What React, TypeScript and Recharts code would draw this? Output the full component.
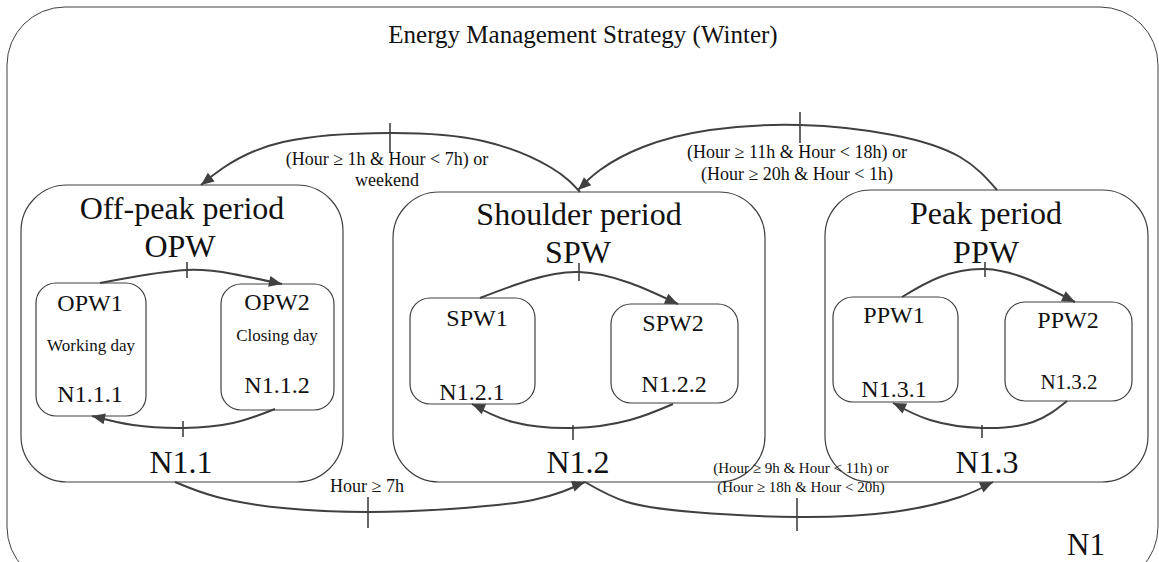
import React from "react";
import {
  ComposedChart,
  XAxis,
  YAxis,
  Line,
  Scatter,
  ReferenceArea,
  ReferenceLine,
} from "recharts";

// diagram units == pixels of the 1159x562 canvas (y grows downwards)
const WIDTH = 1159;
const HEIGHT = 562;

type Box = { id: string; x1: number; x2: number; y1: number; y2: number };
type Pt = { x: number; y: number };
type Label = { text: string; x: number; y: number; role: string };

const outerFrame: Box[] = [{ id: "N1", x1: 7, x2: 1158, y1: 7, y2: 585 }];

const periodBoxes: Box[] = [
  { id: "OPW", x1: 21, x2: 343, y1: 185, y2: 482 },
  { id: "SPW", x1: 393, x2: 765, y1: 192, y2: 482 },
  { id: "PPW", x1: 825, x2: 1148, y1: 190, y2: 482 },
];

const stateBoxes: Box[] = [
  { id: "OPW1", x1: 36, x2: 146, y1: 283, y2: 416 },
  { id: "OPW2", x1: 221, x2: 334, y1: 284, y2: 410 },
  { id: "SPW1", x1: 410, x2: 535, y1: 298, y2: 404 },
  { id: "SPW2", x1: 611, x2: 738, y1: 304, y2: 403 },
  { id: "PPW1", x1: 833, x2: 958, y1: 297, y2: 402 },
  { id: "PPW2", x1: 1005, x2: 1132, y1: 302, y2: 401 },
];

const titleLabels: Label[] = [
  { text: "Energy Management Strategy (Winter)", x: 583, y: 43, role: "title" },
];

const periodLabels: Label[] = [
  { text: "Off-peak period", x: 182, y: 219, role: "period" },
  { text: "OPW", x: 180, y: 257, role: "period" },
  { text: "Shoulder period", x: 579, y: 225, role: "period" },
  { text: "SPW", x: 578, y: 263, role: "period" },
  { text: "Peak period", x: 986, y: 224, role: "period" },
  { text: "PPW", x: 986, y: 263, role: "period" },
  { text: "N1.1", x: 181, y: 473, role: "period" },
  { text: "N1.2", x: 578, y: 473, role: "period" },
  { text: "N1.3", x: 987, y: 473, role: "period" },
  { text: "N1", x: 1086, y: 555, role: "root" },
];

const stateLabels: Label[] = [
  { text: "OPW1", x: 90, y: 311, role: "state" },
  { text: "Working day", x: 91, y: 351, role: "day" },
  { text: "N1.1.1", x: 90, y: 402, role: "state" },
  { text: "OPW2", x: 277, y: 310, role: "state" },
  { text: "Closing day", x: 277, y: 341, role: "day" },
  { text: "N1.1.2", x: 277, y: 393, role: "state" },
  { text: "SPW1", x: 477, y: 326, role: "state" },
  { text: "N1.2.1", x: 472, y: 400, role: "state" },
  { text: "SPW2", x: 673, y: 331, role: "state" },
  { text: "N1.2.2", x: 674, y: 392, role: "state" },
  { text: "PPW1", x: 894, y: 323, role: "state" },
  { text: "N1.3.1", x: 894, y: 397, role: "state" },
  { text: "PPW2", x: 1068, y: 328, role: "state" },
  { text: "N1.3.2", x: 1069, y: 389, role: "stateSmall" },
];

const conditionLabels: Label[] = [
  { text: "(Hour \u2265 1h & Hour < 7h) or", x: 387, y: 165, role: "cond" },
  { text: "weekend", x: 387, y: 186, role: "cond" },
  { text: "(Hour \u2265 11h & Hour < 18h) or", x: 797, y: 158, role: "cond" },
  { text: "(Hour \u2265 20h & Hour < 1h)", x: 797, y: 180, role: "cond" },
  { text: "Hour \u2265 7h", x: 367, y: 492, role: "cond" },
  { text: "(Hour \u2265 9h & Hour < 11h) or", x: 801, y: 473, role: "condSmall" },
  { text: "(Hour \u2265 18h & Hour < 20h)", x: 801, y: 492, role: "condSmall" },
];

// each arc runs from source to target, arrow head at the last point
const periodArcs: { id: string; points: Pt[] }[] = [
  { id: "SPW-OPW", points: [{ x: 580, y: 192 }, { x: 550, y: 167 }, { x: 483, y: 141 }, { x: 390, y: 133 }, { x: 283, y: 142 }, { x: 223, y: 168 }, { x: 201, y: 185 }] },
  { id: "PPW-SPW", points: [{ x: 997, y: 190 }, { x: 960, y: 157 }, { x: 893, y: 135 }, { x: 800, y: 125 }, { x: 710, y: 130 }, { x: 643, y: 147 }, { x: 600, y: 170 }, { x: 578, y: 190 }] },
  { id: "OPW-SPW", points: [{ x: 175, y: 482 }, { x: 217, y: 497 }, { x: 283, y: 508 }, { x: 368, y: 512 }, { x: 450, y: 509 }, { x: 533, y: 500 }, { x: 585, y: 482 }] },
  { id: "SPW-PPW", points: [{ x: 585, y: 482 }, { x: 627, y: 502 }, { x: 693, y: 512 }, { x: 797, y: 517 }, { x: 893, y: 512 }, { x: 960, y: 497 }, { x: 993, y: 482 }] },
];

const stateArcs: { id: string; points: Pt[] }[] = [
  { id: "OPW1-OPW2", points: [{ x: 100, y: 283 }, { x: 133, y: 277 }, { x: 187, y: 270 }, { x: 233, y: 274 }, { x: 282, y: 284 }] },
  { id: "OPW2-OPW1", points: [{ x: 275, y: 409 }, { x: 233, y: 423 }, { x: 183, y: 428 }, { x: 133, y: 425 }, { x: 92, y: 416 }] },
  { id: "SPW1-SPW2", points: [{ x: 480, y: 298 }, { x: 530, y: 280 }, { x: 579, y: 272 }, { x: 630, y: 283 }, { x: 678, y: 304 }] },
  { id: "SPW2-SPW1", points: [{ x: 673, y: 404 }, { x: 630, y: 420 }, { x: 573, y: 428 }, { x: 513, y: 422 }, { x: 472, y: 404 }] },
  { id: "PPW1-PPW2", points: [{ x: 902, y: 297 }, { x: 940, y: 277 }, { x: 985, y: 269 }, { x: 1030, y: 280 }, { x: 1075, y: 302 }] },
  { id: "PPW2-PPW1", points: [{ x: 1067, y: 401 }, { x: 1033, y: 422 }, { x: 982, y: 428 }, { x: 930, y: 420 }, { x: 893, y: 403 }] },
];

// short bars crossing each transition
const transitionTicks = [
  { x: 390, y1: 123, y2: 153 },
  { x: 800, y1: 112, y2: 143 },
  { x: 368, y1: 497, y2: 528 },
  { x: 797, y1: 498, y2: 531 },
  { x: 187, y1: 262, y2: 278 },
  { x: 183, y1: 421, y2: 437 },
  { x: 579, y1: 263, y2: 281 },
  { x: 573, y1: 425, y2: 440 },
  { x: 985, y1: 262, y2: 277 },
  { x: 982, y1: 425, y2: 438 },
];

const FONT = '"Liberation Serif", "Times New Roman", serif';
const INK = "#404040";
const fontSizes: Record<string, number> = {
  title: 25,
  period: 32,
  root: 31,
  state: 24,
  stateSmall: 21,
  day: 17,
  cond: 18,
  condSmall: 15,
};

const roundedShape = (r: number, w: number) => (props: any) => (
  <rect
    x={props.x}
    y={props.y}
    width={props.width}
    height={props.height}
    rx={r}
    ry={r}
    fill="none"
    stroke={INK}
    strokeWidth={w}
  />
);

const renderLabel = (props: any) => {
  const p = props.payload as Label;
  return (
    <text
      x={props.cx}
      y={props.cy}
      textAnchor="middle"
      fontFamily={FONT}
      fontSize={fontSizes[p.role]}
      fill="#111"
    >
      {p.text}
    </text>
  );
};

const arrowDot = (points: Pt[], len: number, half: number) => (props: any) => {
  const last = points.length - 1;
  if (props.index !== last) return <g key={props.index} />;
  const prev = points[last - 1];
  const end = points[last];
  const ang = Math.atan2(end.y - prev.y, end.x - prev.x);
  const { cx, cy } = props;
  const bx = cx - len * Math.cos(ang);
  const by = cy - len * Math.sin(ang);
  const nx = -Math.sin(ang) * half;
  const ny = Math.cos(ang) * half;
  return (
    <polygon
      key={props.index}
      points={`${cx},${cy} ${bx + nx},${by + ny} ${bx - nx},${by - ny}`}
      fill={INK}
      stroke="none"
    />
  );
};

export default function App() {
  const allLabels = [...titleLabels, ...periodLabels, ...stateLabels, ...conditionLabels];

  return (
    <div style={{ position: "absolute", left: 0, top: 0, width: WIDTH, height: HEIGHT, background: "#fff" }}>
      <ComposedChart width={WIDTH} height={HEIGHT} margin={{ top: 0, right: 0, bottom: 0, left: 0 }}>
        <XAxis type="number" dataKey="x" domain={[0, WIDTH]} allowDataOverflow hide />
        <YAxis type="number" dataKey="y" domain={[0, HEIGHT]} allowDataOverflow reversed hide />

        {outerFrame.map((b) => (
          <ReferenceArea key={b.id} x1={b.x1} x2={b.x2} y1={b.y1} y2={b.y2} ifOverflow="visible" shape={roundedShape(58, 1)} />
        ))}
        {periodBoxes.map((b) => (
          <ReferenceArea key={b.id} x1={b.x1} x2={b.x2} y1={b.y1} y2={b.y2} ifOverflow="visible" shape={roundedShape(46, 1.2)} />
        ))}
        {stateBoxes.map((b) => (
          <ReferenceArea key={b.id} x1={b.x1} x2={b.x2} y1={b.y1} y2={b.y2} ifOverflow="visible" shape={roundedShape(20, 1.2)} />
        ))}

        {[...periodArcs, ...stateArcs].map((a) => (
          <Line
            key={a.id}
            data={a.points}
            dataKey="y"
            type="natural"
            stroke={INK}
            strokeWidth={2}
            dot={arrowDot(a.points, 13, 5.5)}
            activeDot={false}
            isAnimationActive={false}
          />
        ))}

        {transitionTicks.map((t, i) => (
          <ReferenceLine
            key={i}
            segment={[{ x: t.x, y: t.y1 }, { x: t.x, y: t.y2 }]}
            stroke={INK}
            strokeWidth={1.6}
            ifOverflow="visible"
          />
        ))}

        <Scatter data={allLabels} shape={renderLabel} isAnimationActive={false} />
      </ComposedChart>
    </div>
  );
}
